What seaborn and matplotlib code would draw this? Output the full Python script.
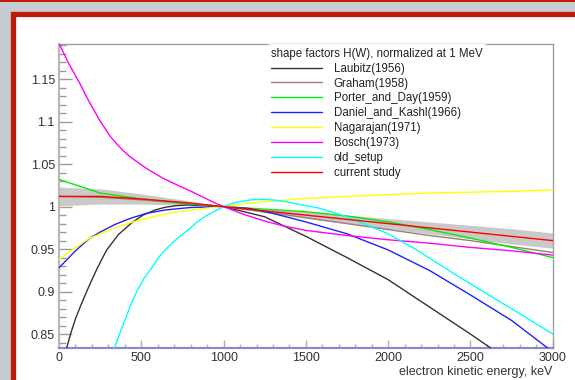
import numpy as np
import pandas as pd
import matplotlib
matplotlib.use('Agg')
import matplotlib.pyplot as plt
import seaborn as sns
from matplotlib.patches import Rectangle
from matplotlib.ticker import MultipleLocator, FuncFormatter

# shape factors H(W), normalized at 1 MeV
laubitz_e = [40, 70, 100, 135, 168, 200, 229, 260, 290, 360, 442, 510, 583, 640, 705, 780, 850, 920, 1000,
             1250, 1500, 1750, 2000, 2250, 2500, 2620, 2700]
laubitz_h = [0.829, 0.850, 0.868, 0.885, 0.900, 0.914, 0.926, 0.938, 0.949, 0.967, 0.981, 0.990, 0.996,
             0.999, 1.001, 1.002, 1.0015, 1.001, 1.000,
             0.988, 0.965, 0.940, 0.914, 0.882, 0.850, 0.834, 0.822]

grid_e = [0, 250, 500, 750, 1000, 1250, 1500, 1750, 2000, 2250, 2500, 2750, 3000]
graham_h = [1.012, 1.011, 1.008, 1.004, 1.000, 0.994, 0.987, 0.980, 0.973, 0.966, 0.960, 0.953, 0.946]
porter_h = [1.032, 1.016, 1.009, 1.004, 1.000, 0.997, 0.994, 0.989, 0.982, 0.973, 0.963, 0.952, 0.940]
current_h = [1.012, 1.012, 1.009, 1.005, 1.000, 0.995, 0.990, 0.985, 0.980, 0.975, 0.970, 0.965, 0.960]
current_err = [0.011, 0.009, 0.006, 0.003, 0.0005, 0.002, 0.004, 0.005, 0.006, 0.007, 0.008, 0.009, 0.009]

daniel_e = [0, 100, 188, 250, 340, 431, 530, 644, 800, 1000, 1150, 1300, 1500, 1750, 2000, 2250, 2500, 2750, 3000]
daniel_h = [0.928, 0.948, 0.963, 0.970, 0.979, 0.986, 0.992, 0.996, 0.999, 1.000, 0.998, 0.992, 0.982,
            0.968, 0.949, 0.925, 0.896, 0.866, 0.829]

nagarajan_e = [0, 100, 188, 250, 340, 431, 550, 685, 887, 1000, 1250, 1500, 1750, 2000, 2250, 2500, 2750, 3000]
nagarajan_h = [0.938, 0.952, 0.963, 0.968, 0.975, 0.981, 0.987, 0.993, 0.998, 1.000, 1.006, 1.0095, 1.012,
               1.014, 1.016, 1.017, 1.018, 1.0195]

bosch_e = [0, 30, 60, 95, 128, 160, 190, 220, 249, 280, 310, 350, 389, 430, 480, 530, 583, 635, 690, 740, 786,
           840, 887, 940, 1000, 1120, 1250, 1370, 1500, 1750, 2000, 2250, 2500, 2750, 3000]
bosch_h = [1.192, 1.180, 1.168, 1.156, 1.1445, 1.132, 1.121, 1.111, 1.101, 1.092, 1.083, 1.074, 1.066,
           1.059, 1.052, 1.045, 1.039, 1.033, 1.028, 1.0235, 1.0195, 1.0145, 1.010, 1.005, 1.000,
           0.991, 0.983, 0.977, 0.972, 0.966, 0.961, 0.957, 0.952, 0.948, 0.943]

old_e = [330, 365, 400, 435, 472, 515, 563, 600, 644, 715, 786, 840, 900, 950, 1000, 1050, 1100, 1170, 1250,
         1320, 1400, 1490, 1585, 1750, 2000, 2173, 2400, 2578, 2800, 3000]
old_h = [0.830, 0.849, 0.866, 0.884, 0.900, 0.915, 0.928, 0.939, 0.949, 0.962, 0.973, 0.982, 0.990, 0.995,
         1.000, 1.0035, 1.006, 1.008, 1.0086, 1.0075, 1.005, 1.0015, 0.998, 0.988, 0.968, 0.949, 0.921,
         0.900, 0.874, 0.850]

series = [
    ("Laubitz(1956)", laubitz_e, laubitz_h, "#333333"),
    ("Graham(1958)", grid_e, graham_h, "#a07c74"),
    ("Porter_and_Day(1959)", grid_e, porter_h, "#00ee00"),
    ("Daniel_and_Kashl(1966)", daniel_e, daniel_h, "#2020ff"),
    ("Nagarajan(1971)", nagarajan_e, nagarajan_h, "#ffff00"),
    ("Bosch(1973)", bosch_e, bosch_h, "#ff00ff"),
    ("old_setup", old_e, old_h, "#00ffff"),
    ("current study", grid_e, current_h, "#ff0000"),
]

sns.set_style("white")
plt.rcParams['font.family'] = ['Liberation Sans', 'DejaVu Sans']

fig = plt.figure(figsize=(5.75, 3.8), dpi=100)
fig.patch.set_facecolor('#c6cdd2')
# red-framed white pad, like the ROOT canvas
fig.patches.append(Rectangle((0, 378 / 380), 1, 2 / 380, transform=fig.transFigure,
                             facecolor='#c01a0c', edgecolor='none', zorder=-10))
fig.patches.append(Rectangle((13.5 / 575, -0.1), 1.2, (380 - 13.5) / 380 + 0.1, transform=fig.transFigure,
                             facecolor='white', edgecolor='#c01a0c', linewidth=3.8, zorder=-10))

ax = fig.add_axes([59 / 575, 32.3 / 380, 493.8 / 575, 303.4 / 380])
ax.set_facecolor('white')
ax.set_zorder(1)

# uncertainty band of the current study
band = pd.DataFrame({"E": grid_e, "H": current_h, "err": current_err})
ax.fill_between(band["E"], band["H"] - band["err"], band["H"] + band["err"],
                color='#c9c9c9', linewidth=0, zorder=1)

for name, e, h, col in series:
    df = pd.DataFrame({"E": e, "H": h})
    sns.lineplot(data=df, x="E", y="H", color=col, linewidth=1.0, label=name,
                 sort=False, estimator=None, ax=ax, zorder=3)

ax.set_xlim(0, 3000)
ax.set_ylim(0.834, 1.191)

ax.xaxis.set_major_locator(MultipleLocator(500))
ax.xaxis.set_minor_locator(MultipleLocator(100))
ax.yaxis.set_major_locator(MultipleLocator(0.05))
ax.yaxis.set_minor_locator(MultipleLocator(0.01))
ax.yaxis.set_major_formatter(FuncFormatter(lambda v, p: f"{v:g}"))

ax.tick_params(axis='both', which='both', bottom=True, left=True, top=False, right=False)
ax.tick_params(axis='y', which='major', direction='in', length=9.4, width=1, color='#9a9a9a',
               labelsize=9, labelcolor='#333333', pad=3)
ax.tick_params(axis='y', which='minor', direction='in', length=4.7, width=1, color='#9a9a9a')
ax.tick_params(axis='x', which='major', direction='in', length=6, width=1, color='#b0b0b0',
               labelsize=9, labelcolor='#333333', pad=3)
ax.tick_params(axis='x', which='minor', direction='in', length=3, width=1, color='#b0b0b0')

ax.spines['left'].set_color('#b8b8b8')
ax.spines['left'].set_linewidth(1.6)
ax.spines['bottom'].set_color('#8a8ac8')
ax.spines['bottom'].set_linewidth(1.6)
for s in ('top', 'right'):
    ax.spines[s].set_color('#a0a0a0')
    ax.spines[s].set_linewidth(1.0)

ax.set_ylabel("")
ax.set_xlabel("electron kinetic energy, keV", loc='right', fontsize=9, color='#333333', labelpad=1.5)

leg = ax.legend(title="shape factors H(W), normalized at 1 MeV", loc='upper left',
                bbox_to_anchor=((268 - 59) / 493.8, 1.0), frameon=True, facecolor='white',
                edgecolor='none', framealpha=1, fontsize=8.3, title_fontsize=8.3,
                handlelength=4.4, handletextpad=1.0, labelspacing=0.25, borderpad=0.3,
                borderaxespad=0.0, alignment='left')
for t in leg.get_texts():
    t.set_color('#222222')
leg.get_title().set_color('#222222')

fig.savefig('out.png', dpi=100, facecolor=fig.get_facecolor())
